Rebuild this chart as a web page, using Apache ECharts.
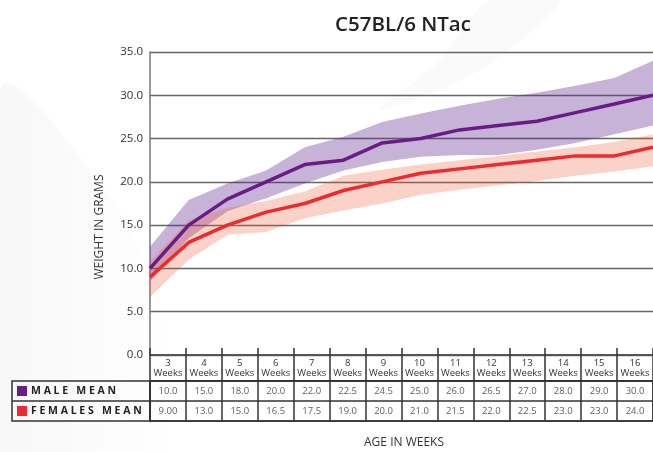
<!DOCTYPE html>
<html>
<head>
<meta charset="utf-8">
<script src="https://cdn.jsdelivr.net/npm/echarts@6/dist/echarts.min.js"></script>
<style>
  html, body { margin: 0; padding: 0; background: #fff; }
  #main { width: 653px; height: 452px; }
</style>
</head>
<body>
<div id="main"></div>
<script>
// 数据
var weeks = ['3', '4', '5', '6', '7', '8', '9', '10', '11', '12', '13', '14', '15', '16'];
var maleMean = [10.0, 15.0, 18.0, 20.0, 22.0, 22.5, 24.5, 25.0, 26.0, 26.5, 27.0, 28.0, 29.0, 30.0];
var femaleMean = [9.0, 13.0, 15.0, 16.5, 17.5, 19.0, 20.0, 21.0, 21.5, 22.0, 22.5, 23.0, 23.0, 24.0];
// 阴影范围
var maleUpper = [12.5, 17.9, 19.8, 21.3, 24.0, 25.2, 26.9, 27.9, 28.8, 29.6, 30.3, 31.1, 32.0, 34.0];
var maleLower = [8.5, 13.5, 16.6, 18.1, 19.8, 21.3, 22.3, 22.9, 23.1, 23.1, 23.7, 24.5, 25.5, 26.5];
var femaleUpper = [10.8, 15.5, 17.0, 17.8, 18.9, 20.7, 21.4, 22.0, 22.5, 23.0, 23.5, 24.0, 24.6, 25.5];
var femaleLower = [6.7, 11.0, 13.9, 14.2, 15.8, 16.7, 17.5, 18.5, 19.1, 19.6, 20.1, 20.7, 21.2, 21.8];
var rowNames = ['MALE MEAN', 'FEMALES MEAN'];

var purple = '#6a1c86';
var red = '#ee2a2e';
var font = 'Open Sans';

function spaced(s) {
    return s.split('').join(' ');
}

var bandMale = maleUpper.map(function (v, i) { return +(v - maleLower[i]).toFixed(2); });
var bandFemale = femaleUpper.map(function (v, i) { return +(v - femaleLower[i]).toFixed(2); });

var tableData = [];
for (var i = 0; i < weeks.length; i++) {
    tableData.push([i, 0, maleMean[i]]);
    tableData.push([i, 1, femaleMean[i]]);
}

var myChart = echarts.init(document.getElementById('main'));
var option = {
    backgroundColor: '#fff',
    animation: false,
    textStyle: { fontFamily: font },
    title: {
        text: 'C57BL/6 NTac',
        left: 398,
        textAlign: 'center',
        top: 10,
        textStyle: { fontSize: 20.5, fontWeight: 600, color: '#222', fontFamily: font }
    },
    graphic: [
        // 背景的浅灰色弧形
        {
            type: 'polygon', z: -10, silent: true,
            shape: { points: [[0, 90], [90, 170], [150, 280], [165, 452], [0, 452]], smooth: 0.4 },
            style: { fill: { type: 'linear', x: 0, y: 0, x2: 1, y2: 0, colorStops: [
                { offset: 0, color: 'rgba(0,0,0,0.035)' },
                { offset: 1, color: 'rgba(0,0,0,0)' }
            ] } }
        },
        {
            type: 'polygon', z: -10, silent: true,
            shape: { points: [[380, 110], [480, 70], [560, 0], [490, 0], [440, 60]], smooth: 0.3 },
            style: { fill: 'rgba(0,0,0,0.018)' }
        },
        {
            type: 'text',
            x: 100, y: 227, rotation: Math.PI / 2,
            style: { text: 'WEIGHT IN GRAMS', fill: '#333', font: '12px "Open Sans"', textAlign: 'center', textVerticalAlign: 'middle' }
        },
        {
            type: 'text',
            x: 404, y: 443,
            style: { text: 'AGE IN WEEKS', fill: '#333', font: '12px "Open Sans"', textAlign: 'center', textVerticalAlign: 'middle' }
        },
        {
            type: 'rect',
            shape: { x: 12, y: 381, width: 138, height: 40 },
            style: { fill: 'none', stroke: '#333', lineWidth: 1.5 }
        },
        {
            type: 'line',
            shape: { x1: 12, y1: 401, x2: 150, y2: 401 },
            style: { stroke: '#333', lineWidth: 1.5 }
        }
    ],
    grid: [
        { left: 150, top: 52, width: 503, height: 303 },
        { left: 150, top: 381, width: 504, height: 40, show: true, borderColor: '#333', borderWidth: 1.5 }
    ],
    xAxis: [
        {
            type: 'category', gridIndex: 0, data: weeks, boundaryGap: false,
            axisLine: { lineStyle: { color: '#555', width: 2 } },
            axisTick: { show: false },
            axisLabel: { show: false }
        },
        {
            type: 'category', gridIndex: 1, data: weeks, position: 'top',
            axisLine: { lineStyle: { color: '#333', width: 1.5 } },
            axisTick: { show: true, length: 33, lineStyle: { color: '#333', width: 1.5 } },
            splitLine: { show: true, lineStyle: { color: '#333', width: 1.5 } },
            axisLabel: {
                interval: 0, margin: 2, fontSize: 9.5, lineHeight: 10.5, color: '#333',
                formatter: function (v) { return v + '\nWeeks'; }
            }
        }
    ],
    yAxis: [
        {
            type: 'value', gridIndex: 0, min: 0, max: 35, interval: 5,
            axisLine: { show: true, lineStyle: { color: '#777', width: 1.5 } },
            axisTick: { show: false },
            splitLine: { lineStyle: { color: '#666', width: 1.3 } },
            axisLabel: {
                margin: 7, fontSize: 11.5, color: '#333',
                formatter: function (v) { return v.toFixed(1); }
            }
        },
        {
            type: 'category', gridIndex: 1, data: rowNames, inverse: true,
            axisLine: { show: true, lineStyle: { color: '#333', width: 1.5 } },
            axisTick: { show: false },
            splitLine: { show: true, lineStyle: { color: '#333', width: 1.5 } },
            axisLabel: {
                align: 'left', margin: 133,
                formatter: function (v, idx) {
                    return (idx === 0 ? '{p|}' : '{r|}') + '{t|' + spaced(v) + '}';
                },
                rich: {
                    p: { width: 10, height: 10, backgroundColor: purple },
                    r: { width: 10, height: 10, backgroundColor: red },
                    t: { fontSize: 10.5, fontWeight: 'bold', color: '#222', padding: [0, 0, 0, 4], fontFamily: font }
                }
            }
        }
    ],
    series: [
        {
            type: 'line', xAxisIndex: 0, yAxisIndex: 0, stack: 'male', data: maleLower,
            symbol: 'none', lineStyle: { opacity: 0 }, silent: true
        },
        {
            type: 'line', xAxisIndex: 0, yAxisIndex: 0, stack: 'male', data: bandMale,
            symbol: 'none', lineStyle: { opacity: 0 }, silent: true,
            areaStyle: { color: 'rgba(100, 40, 145, 0.5)' }
        },
        {
            type: 'line', xAxisIndex: 0, yAxisIndex: 0, stack: 'female', data: femaleLower,
            symbol: 'none', lineStyle: { opacity: 0 }, silent: true
        },
        {
            type: 'line', xAxisIndex: 0, yAxisIndex: 0, stack: 'female', data: bandFemale,
            symbol: 'none', lineStyle: { opacity: 0 }, silent: true,
            areaStyle: { color: 'rgba(240, 85, 45, 0.38)' }
        },
        {
            name: 'MALE MEAN', type: 'line', xAxisIndex: 0, yAxisIndex: 0, data: maleMean,
            symbol: 'none', lineStyle: { color: purple, width: 3.5 }
        },
        {
            name: 'FEMALES MEAN', type: 'line', xAxisIndex: 0, yAxisIndex: 0, data: femaleMean,
            symbol: 'none', lineStyle: { color: red, width: 3.5 }
        },
        {
            type: 'scatter', xAxisIndex: 1, yAxisIndex: 1, data: tableData,
            symbolSize: 2, itemStyle: { color: 'rgba(0,0,0,0)' }, silent: true,
            label: {
                show: true, position: 'inside', fontSize: 9.5, color: '#333',
                formatter: function (p) { return p.value[2].toPrecision(3); }
            }
        }
    ]
};
myChart.setOption(option);
</script>
</body>
</html>
